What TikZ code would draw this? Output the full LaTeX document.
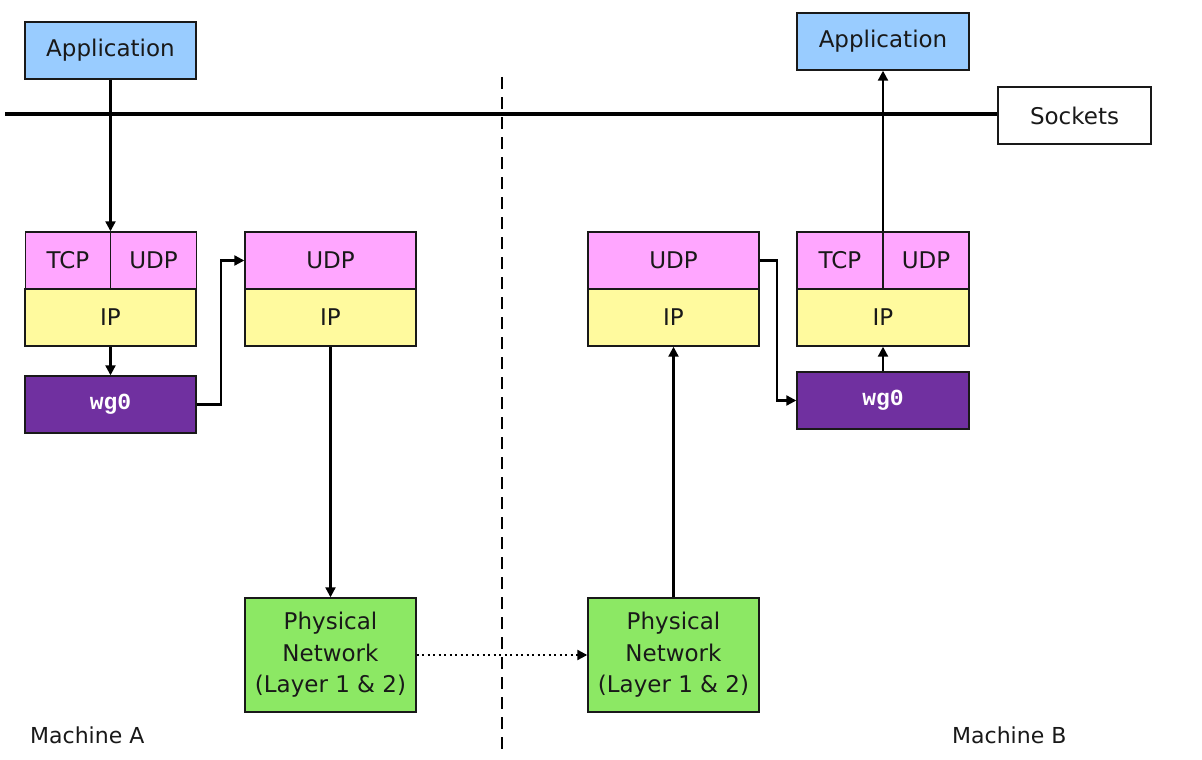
\documentclass[tikz,border=0pt]{standalone}
\usepackage{fontspec}
\setmainfont{DejaVu Sans}
\newfontfamily\wgfont{Liberation Mono}
\usetikzlibrary{arrows.meta}
\definecolor{appblue}{RGB}{153,204,255}
\definecolor{tpink}{RGB}{255,166,255}
\definecolor{ipyellow}{RGB}{255,250,158}
\definecolor{wgpurple}{RGB}{112,48,160}
\definecolor{phygreen}{RGB}{140,232,100}
\definecolor{ink}{RGB}{25,25,25}
\begin{document}
\begin{tikzpicture}[x=1pt,y=-1pt,
  box/.style={draw=ink, line width=1.4pt, minimum height=57, inner sep=0pt,
    font=\fontsize{23}{27}\selectfont, text=ink},
  wide/.style={box, minimum width=171},
  half/.style={box, minimum width=85.5},
  tip/.style={-{Triangle[length=10pt 0,width=10pt 0]}},
  conn/.style={line width=2.2pt, tip},
  plain/.style={line width=2.2pt}
]
\useasboundingbox (0,0) rectangle (1202,760);
\fill[white] (0,0) rectangle (1202,760);

% Machine A
\node[wide, fill=appblue] (appA) at (110.5,50.5) {Application};
\node[half, fill=tpink] (tcpA) at (68,260.5) {TCP};
\node[half, fill=tpink] (udpA) at (153.5,260.5) {UDP};
\node[wide, fill=ipyellow] (ipA) at (110.5,317.5) {IP};
\node[wide, fill=wgpurple, text=white, font=\fontsize{23}{27}\wgfont\bfseries] (wgA) at (110.5,404.5) {wg0};
\node[wide, fill=tpink] (udpM1) at (330.5,260.5) {UDP};
\node[wide, fill=ipyellow] (ipM1) at (330.5,317.5) {IP};
\node[wide, fill=phygreen, minimum height=114, align=center,
  font=\fontsize{23}{31.5}\selectfont] (phyA) at (330.5,655) {Physical\\Network\\(Layer 1 \& 2)};

% Machine B
\node[wide, fill=phygreen, minimum height=114, align=center,
  font=\fontsize{23}{31.5}\selectfont] (phyB) at (673.5,655) {Physical\\Network\\(Layer 1 \& 2)};
\node[wide, fill=tpink] (udpM2) at (673.5,260.5) {UDP};
\node[wide, fill=ipyellow] (ipM2) at (673.5,317.5) {IP};
\node[box, minimum width=172, fill=appblue] (appB) at (883,41.5) {Application};
\node[box, minimum width=86, fill=tpink] (tcpB) at (840,260.5) {TCP};
\node[box, minimum width=86, fill=tpink] (udpB) at (926,260.5) {UDP};
\node[box, minimum width=172, fill=ipyellow] (ipB) at (883,317.5) {IP};
\node[box, minimum width=172, fill=wgpurple, text=white, font=\fontsize{23}{27}\wgfont\bfseries] (wgB) at (883,400.5) {wg0};

\node[box, minimum width=153, fill=white] (sock) at (1074.5,115.5) {Sockets};

% sockets line and divider
\coordinate (sockL) at (5,114);
\draw[line width=4.5pt] (sockL) -- (sockL -| sock.west);
\coordinate (divT) at (502,77);
\coordinate (divB) at (502,750);
\draw[line width=2.5pt, dash pattern=on 12pt off 8pt] (divT) -- (divB);

% connectors
\draw[conn] (appA.south) -- (appA.south |- tcpA.north);
\draw[conn] (ipA.south) -- (wgA.north);
\draw[conn] (wgA.east) -- ++(24,0) |- (udpM1.west);
\draw[conn] (ipM1.south) -- (phyA.north);
\draw[line width=2.2pt, dash pattern=on 2.2pt off 3.3pt, tip] (phyA.east) -- (phyB.west);
\draw[conn] (phyB.north) -- (ipM2.south);
\draw[conn] (udpM2.east) -- ++(17,0) |- (wgB.west);
\draw[conn] (wgB.north) -- (ipB.south);
\draw[conn] (appB.south |- tcpB.north) -- (appB.south);

\node[anchor=west, font=\fontsize{22}{26}\selectfont, text=ink, inner sep=0pt] (macA) at (30,735) {Machine A};
\node[anchor=west, font=\fontsize{22}{26}\selectfont, text=ink, inner sep=0pt] (macB) at (952,735) {Machine B};
\end{tikzpicture}
\end{document}
